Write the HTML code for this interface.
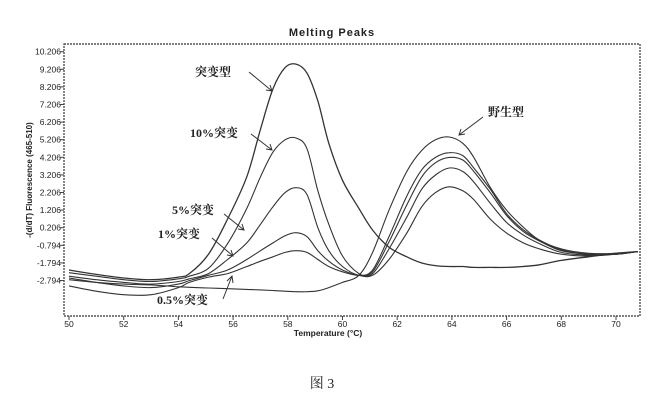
<!DOCTYPE html>
<html><head><meta charset="utf-8">
<style>
html,body{margin:0;padding:0;background:#fff;width:663px;height:410px;overflow:hidden}
svg{display:block}
text{fill:#222}
</style></head>
<body>
<svg id="chart" width="663" height="410" xmlns="http://www.w3.org/2000/svg">
<text x="332" y="36" text-anchor="middle" font-family="Liberation Sans, sans-serif" font-size="11" font-weight="bold" letter-spacing="1">Melting Peaks</text>
<rect x="64" y="44" width="576" height="272" fill="none" stroke="#333" stroke-width="1.2" stroke-dasharray="2,1"/>
<text transform="translate(32,180) rotate(-90)" text-anchor="middle" font-family="Liberation Sans, sans-serif" font-size="8" font-weight="bold">-(d/dT) Fluorescence (465-510)</text>
<text x="328" y="336" text-anchor="middle" font-family="Liberation Sans, sans-serif" font-size="8.5" font-weight="bold">Temperature (°C)</text>
<g id="yticks"></g><g id="xticks"></g>
<clipPath id="plotclip"><rect x="64" y="44" width="576" height="272"/></clipPath>
<g id="series" clip-path="url(#plotclip)"></g>
<g font-family="Liberation Serif, 'Noto Serif CJK SC', serif" font-size="12" font-weight="bold" fill="#222">
<text x="195" y="76">突变型</text>
<text x="190" y="137">10%突变</text>
<text x="172" y="214">5%突变</text>
<text x="158" y="238">1%突变</text>
<text x="157" y="304">0.5%突变</text>
<text x="488" y="116">野生型</text>
</g>
<g stroke="#333" stroke-width="1" fill="none">
<path d="M249 72 L272 91 M266 90 L272 91 L270 85"/>
<path d="M251 134 L272 150 M266 149 L272 150 L270 144"/>
<path d="M224 214 L244 230 M238 229 L244 230 L242 224"/>
<path d="M212 238 L233 256 M227 255 L233 256 L231 250"/>
<path d="M223 299 L232 276 M227 281 L232 276 L233 283"/>
<path d="M483 117 L459 135 M461 129 L459 135 L465 134"/>
</g>
<text x="322" y="388" text-anchor="middle" font-family="Liberation Serif, 'Noto Serif CJK SC', serif" font-size="14">图 3</text>
</svg>
<script>
const temps = [50,51,52,53,54,54.4,55.1,55.8,56.5,57,57.46,57.9,58.3,58.7,59.1,59.5,60,60.6,61.1,61.7,62.35,62.9,63.4,63.9,64.4,64.8,65.4,66,66.6,67.2,68,69,70,70.8];
const mutant = [-2.2,-2.45,-2.65,-2.75,-2.6,-2.4,-1.3,0.7,3.1,5.8,8.1,9.3,9.5,9.0,7.4,5.0,2.9,1.3,0.07,-0.9,-1.45,-1.8,-1.95,-2.0,-2.0,-2.05,-2.05,-2.05,-2.0,-1.9,-1.65,-1.45,-1.25,-1.15];
const pct10 = [-2.35,-2.55,-2.75,-2.85,-2.7,-2.55,-2.1,-0.7,1.3,3.1,4.5,5.2,5.3,4.7,2.3,0.4,-1.4,-2.4,-2.5,-1.6,-0.1,1.4,2.2,2.53,2.3,1.8,0.7,-0.1,-0.65,-1.0,-1.3,-1.4,-1.3,-1.15];
const pct5 = [-2.55,-2.75,-2.9,-3.0,-2.85,-2.7,-2.4,-1.6,-0.66,0.4,1.4,2.2,2.48,2.1,0.2,-1.1,-2.0,-2.5,-2.4,-1.0,0.8,2.4,3.2,3.6,3.4,2.8,1.6,0.5,-0.2,-0.7,-1.2,-1.35,-1.3,-1.15];
const pct1 = [-2.65,-2.9,-3.1,-3.2,-3.0,-2.8,-2.5,-2.2,-1.6,-1.1,-0.66,-0.25,-0.08,-0.3,-1.1,-1.7,-2.2,-2.5,-2.3,-0.6,1.5,3.1,3.9,4.2,4.05,3.4,2.2,0.9,0.0,-0.55,-1.1,-1.3,-1.3,-1.15];
const pct05 = [-3.1,-3.4,-3.6,-3.6,-3.2,-2.9,-2.6,-2.4,-2.0,-1.7,-1.45,-1.2,-1.1,-1.2,-1.6,-2.0,-2.3,-2.5,-2.2,-0.3,2.0,3.5,4.2,4.47,4.3,3.6,2.4,1.0,0.1,-0.5,-1.05,-1.3,-1.3,-1.15];
const wild = [-2.75,-2.9,-3.0,-3.05,-3.15,-3.18,-3.22,-3.26,-3.3,-3.33,-3.36,-3.4,-3.43,-3.43,-3.38,-3.2,-2.9,-2.5,-1.2,1.2,3.4,4.6,5.2,5.36,5.0,4.2,2.5,1.2,0.25,-0.5,-1.0,-1.25,-1.25,-1.15];
const yTickLabels = ["10.206","9.206","8.206","7.206","6.206","5.206","4.206","3.206","2.206","1.206","0.206","-0.794","-1.794","-2.794"];
const xTickLabels = ["50","52","54","56","58","60","62","64","66","68","70"];

const NS = "http://www.w3.org/2000/svg";
function xs(t){ return 69 + (t - 50) * 27.35; }
function ys(v){ return 51.7 + (10.206 - v) * 17.6; }

const yt = document.getElementById('yticks');
yTickLabels.forEach(l => {
  const v = parseFloat(l), y = ys(v);
  const tk = document.createElementNS(NS,'line');
  
  
  tk.setAttribute('x1',60); tk.setAttribute('x2',64); tk.setAttribute('y1',y); tk.setAttribute('y2',y);
  tk.setAttribute('stroke','#444');
  yt.appendChild(tk);
  const tx = document.createElementNS(NS,'text');
  
  
  tx.setAttribute('x',61); tx.setAttribute('y',y+3); tx.setAttribute('text-anchor','end');
  tx.setAttribute('font-family','Liberation Sans, sans-serif'); tx.setAttribute('font-size','8.5');
  tx.textContent = l; yt.appendChild(tx);
});
const xt = document.getElementById('xticks');
xTickLabels.forEach(l => {
  const x = xs(parseFloat(l));
  const tk = document.createElementNS(NS,'line');
  
  
  tk.setAttribute('x1',x); tk.setAttribute('x2',x); tk.setAttribute('y1',316); tk.setAttribute('y2',320);
  tk.setAttribute('stroke','#444');
  xt.appendChild(tk);
  const tx = document.createElementNS(NS,'text');
  
  
  tx.setAttribute('x',x); tx.setAttribute('y',327); tx.setAttribute('text-anchor','middle');
  tx.setAttribute('font-family','Liberation Sans, sans-serif'); tx.setAttribute('font-size','8.5');
  tx.textContent = l; xt.appendChild(tx);
});

function pathFor(vals){
  const p = temps.map((t,i)=>[xs(t), ys(vals[i])]);
  let d = 'M'+p[0][0].toFixed(1)+' '+p[0][1].toFixed(1);
  for(let i=0;i<p.length-1;i++){
    const p0=p[Math.max(i-1,0)], p1=p[i], p2=p[i+1], p3=p[Math.min(i+2,p.length-1)];
    const c1=[p1[0]+(p2[0]-p0[0])/6, p1[1]+(p2[1]-p0[1])/6];
    const c2=[p2[0]-(p3[0]-p1[0])/6, p2[1]-(p3[1]-p1[1])/6];
    d+=' C'+c1[0].toFixed(1)+' '+c1[1].toFixed(1)+' '+c2[0].toFixed(1)+' '+c2[1].toFixed(1)+' '+p2[0].toFixed(1)+' '+p2[1].toFixed(1);
  }
  return d;
}
const sg = document.getElementById('series');
[[mutant,'series-mutant',1.3],[pct10,'series-10pct',1.1],[pct5,'series-5pct',1.1],[pct1,'series-1pct',1.1],[pct05,'series-0-5pct',1.1],[wild,'series-wildtype',1.1]].forEach(s=>{
  const el = document.createElementNS(NS,'path');
  
  
  el.setAttribute('d', pathFor(s[0]));
  el.setAttribute('fill','none'); el.setAttribute('stroke','#333'); el.setAttribute('stroke-width', s[2]);
  sg.appendChild(el);
});
</script>
</body></html>
